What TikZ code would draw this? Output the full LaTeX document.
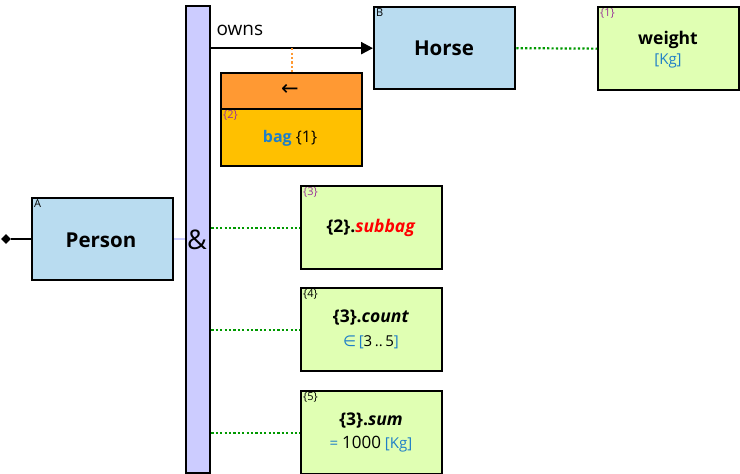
\documentclass[tikz,border=0pt]{standalone}
\usepackage{fontspec}
\setmainfont{Open Sans}
\newfontfamily\symf{DejaVu Sans}
\usetikzlibrary{arrows.meta,shapes.geometric}
\definecolor{entblue}{HTML}{B9DCF0}
\definecolor{attrgreen}{HTML}{E0FFB3}
\definecolor{barlav}{HTML}{CCCCFF}
\definecolor{orangetop}{HTML}{FF9933}
\definecolor{goldbot}{HTML}{FFC000}
\definecolor{txtblue}{HTML}{1F7FC8}
\definecolor{idpurple}{HTML}{993399}
\definecolor{dotgreen}{HTML}{009900}
\definecolor{dotorange}{HTML}{FF9933}
\tikzset{
  box/.style={draw=black, line width=2.3pt, anchor=north west, inner sep=0pt, rectangle},
  ent/.style={box, fill=entblue, minimum width=141pt, minimum height=82pt},
  attr/.style={box, fill=attrgreen, minimum width=141pt, minimum height=83pt},
  tag/.style={anchor=north west, inner sep=0pt, font=\fontsize{11}{12}\selectfont},
  idtag/.style={tag, text=idpurple},
  gdot/.style={draw=dotgreen, line width=2.2pt, dash pattern=on 2.2pt off 2.2pt},
  odot/.style={draw=dotorange, line width=2.2pt, dash pattern=on 2.2pt off 2.2pt},
  big/.style={font=\bfseries\fontsize{20.5}{23}\selectfont},
  mid/.style={font=\bfseries\fontsize{17.5}{20}\selectfont},
  sub/.style={font=\fontsize{15}{17}\selectfont},
}
\begin{document}
\begin{tikzpicture}[x=1pt,y=-1pt]
\useasboundingbox (0,0) rectangle (740,474);
% bar
\node[box, fill=barlav, minimum width=24pt, minimum height=467pt] (bar) at (185,5) {};
\node[font=\fontsize{27}{29}\selectfont] (amp) at (197,240) {\&};
% Person
\node[ent] (person) at (31,197) {};
\node[big] (personlbl) at (101,240) {Person};
\node[tag] (pa) at ([shift={(3,2)}]person.north west) {A};
\node[diamond, fill=black, inner sep=0pt, minimum width=10pt, minimum height=10pt] (dia) at (6,239) {};
\draw[line width=2.3pt] (dia) -- (dia -| person.west);
\draw[barlav, line width=2.3pt] (person.east |- dia) -- (bar.west |- dia);
% Horse
\node[ent] (horse) at (373,6) {};
\node[big] (horselbl) at (444,48) {Horse};
\node[tag] (hb) at ([shift={(3,2)}]horse.north west) {B};
% owns
\coordinate (ownsstart) at (bar.east |- horse.west);
\draw[line width=2.3pt, -{Triangle[length=12pt,width=12pt]}] (ownsstart) -- (horse.west);
\node[anchor=west, font=\fontsize{19}{21}\selectfont] (owns) at (213,30) {owns};
% weight
\node[attr] (weight) at (597,6) {};
\node[idtag] (w1) at ([shift={(3,2)}]weight.north west) {\{1\}};
\node[mid] (wlbl) at (668,40) {weight};
\node[sub, text=txtblue] (wkg) at (668,61) {[Kg]};
\draw[gdot] (horse.east) -- (weight.west);
% bag
\node[box, fill=orangetop, minimum width=141pt, minimum height=36pt] (bagtop) at (220,72) {};
\node[box, fill=goldbot, minimum width=141pt, minimum height=57pt] (bagbot) at (220,108) {};
\node[font=\symf\fontsize{21}{23}\selectfont] (arr) at (290,90) {←};
\node[idtag] (b2) at ([shift={(3,2)}]bagbot.north west) {\{2\}};
\node[font=\fontsize{16}{18}\selectfont] (baglbl) at (290,138) {\textbf{\textcolor{txtblue}{bag}} \{1\}};
\coordinate (ownsmid) at (bagtop.north |- horse.west);
\draw[odot] (ownsmid) -- (bagtop.north);
% {3}
\node[attr] (s3) at (300,185) {};
\node[idtag] (s3t) at ([shift={(3,2)}]s3.north west) {\{3\}};
\node[mid] (s3lbl) at (371,228) {\{2\}.\textcolor{red}{\textit{subbag}}};
\draw[gdot] (bar.east |- s3.west) -- (s3.west);
% {4}
\node[attr] (s4) at (300,287) {};
\node[tag] (s4t) at ([shift={(3,2)}]s4.north west) {\{4\}};
\node[mid] (s4lbl) at (371,318) {\{3\}.\textit{count}};
\node[sub, text=txtblue] (s4sub) at (371,342) {{\symf∈}\,[\textcolor{black}{3\,..\,5}]};
\draw[gdot] (bar.east |- s4.west) -- (s4.west);
% {5}
\node[attr] (s5) at (300,390) {};
\node[tag] (s5t) at ([shift={(3,2)}]s5.north west) {\{5\}};
\node[mid] (s5lbl) at (371,421) {\{3\}.\textit{sum}};
\node[sub, text=txtblue] (s5sub) at (371,444) {= \textcolor{black}{\fontsize{17}{19}\selectfont 1000} [Kg]};
\draw[gdot] (bar.east |- s5.west) -- (s5.west);
\end{tikzpicture}
\end{document}
